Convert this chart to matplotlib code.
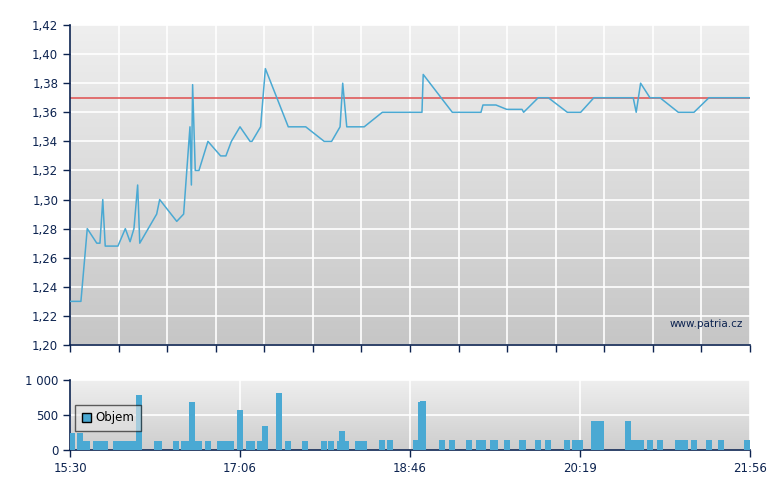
import numpy as np
import matplotlib
matplotlib.use('Agg')
import matplotlib.pyplot as plt
from matplotlib.patches import Patch

# cena: minuty od 15:30 a hodnota
price_min = [0, 6.2, 9.8, 15.2, 17.0, 18.6, 20.0, 27.2, 31.4, 34.1, 36.3, 38.4,
             39.6, 49.2, 50.9, 60.6, 64.5, 68.1, 68.9, 69.6, 71.1, 73.2, 78.3,
             85.5, 88.5, 91.6, 96.5, 102.2, 103.3, 108.2, 110.9, 123.9, 133.8,
             144.3, 148.5, 153.3, 154.8, 157.1, 167.0, 177.3, 199.8, 200.5,
             217.0, 233.3, 234.4, 241.8, 247.9, 256.6, 257.5, 265.8, 271.5,
             282.3, 289.9, 297.4, 319.7, 321.4, 323.9, 329.2, 334.9, 345.3,
             354.2, 362.7, 386]
price_val = [1.23, 1.23, 1.28, 1.27, 1.27, 1.30, 1.268, 1.268, 1.28, 1.271, 1.28, 1.31,
             1.27, 1.29, 1.30, 1.285, 1.29, 1.35, 1.31, 1.379, 1.32, 1.32, 1.34,
             1.33, 1.33, 1.34, 1.35, 1.34, 1.34, 1.35, 1.39, 1.35, 1.35,
             1.34, 1.34, 1.35, 1.38, 1.35, 1.35, 1.36, 1.36, 1.386,
             1.36, 1.36, 1.365, 1.365, 1.362, 1.362, 1.36, 1.37, 1.37,
             1.36, 1.36, 1.37, 1.37, 1.36, 1.38, 1.37, 1.37, 1.36,
             1.36, 1.37, 1.37]
prev_close = 1.37

# objem: interval (od, do) v minutach od 15:30 a objem
vol_start = [0, 4.0, 7.4, 13.1, 24.4, 37.3, 47.7, 58.5, 63.0, 67.5, 71.0, 76.6,
             83.4, 94.8, 99.9, 106.1, 109.0, 116.9, 122.0, 131.7, 142.5, 146.5,
             151.6, 152.7, 156.1, 161.8, 175.4, 179.9, 194.7, 197.5, 198.7,
             209.4, 215.1, 224.8, 230.4, 238.4, 246.3, 254.9, 264.0, 269.6,
             280.4, 284.9, 295.7, 315.0, 318.4, 327.5, 333.2, 343.4, 352.5,
             361.0, 367.8, 382.6]
vol_end = [2.8, 7.4, 11.4, 21.4, 37.3, 40.9, 52.2, 61.9, 67.5, 71.0, 74.9, 80.0,
           93.1, 98.2, 105.0, 109.0, 112.4, 120.3, 125.4, 135.1, 145.9, 149.9,
           152.7, 156.1, 158.4, 168.6, 178.8, 183.3, 197.5, 198.7, 202.1,
           212.8, 218.5, 228.2, 236.1, 242.9, 249.7, 258.9, 267.4, 273.0,
           283.8, 291.2, 303.1, 318.4, 325.8, 330.9, 336.6, 350.8, 355.9,
           364.4, 371.2, 386]
vol_val = [250, 240, 130, 130, 130, 790, 130, 130, 130, 690, 130, 130,
           130, 570, 130, 130, 340, 815, 130, 130, 130, 130,
           130, 270, 130, 130, 140, 140, 140, 690, 700,
           140, 140, 140, 140, 140, 140, 140, 140, 140,
           140, 140, 415, 415, 140, 140, 140, 140, 140,
           140, 140, 140]

tick_labels = ['15:30', '17:06', '18:46', '20:19', '21:56']
T_END = 386

NAVY = '#0c2350'
BLUE = '#4aa9d3'

def gradient(ax, top, bottom):
    g = np.linspace(0, 1, 256).reshape(-1, 1)
    c0 = np.array(matplotlib.colors.to_rgb(top))
    c1 = np.array(matplotlib.colors.to_rgb(bottom))
    img = c0 + (c1 - c0) * g[:, :, None]
    ax.imshow(img, extent=[0, 1, 0, 1], transform=ax.transAxes,
              aspect='auto', zorder=0, origin='upper')

def style(ax):
    for s in ['top', 'right']:
        ax.spines[s].set_visible(False)
    for s in ['left', 'bottom']:
        ax.spines[s].set_color(NAVY)
        ax.spines[s].set_linewidth(1.2)
    ax.tick_params(colors=NAVY, labelcolor=NAVY, labelsize=8.5, length=5, width=1)

fig = plt.figure(figsize=(7.8, 4.9), dpi=100)

# horni graf - cena
ax = fig.add_axes([70/780, 145/490, 680/780, 320/490])
gradient(ax, '#efefef', '#c6c6c6')
ax.plot(price_min, price_val, color=BLUE, lw=1.1, zorder=3)
ax.axhline(prev_close, color='#e05a5a', lw=1.2, zorder=2)
ax.set_xlim(0, T_END)
ax.set_ylim(1.20, 1.42)
yt = np.round(np.arange(1.20, 1.4201, 0.02), 2)
ax.set_yticks(yt)
ax.set_yticklabels([f'{v:.2f}'.replace('.', ',') for v in yt])
ax.set_xticks(np.linspace(0, T_END, 15))
ax.set_xticklabels([])
ax.grid(True, color='white', lw=1.2, zorder=1)
ax.set_axisbelow(True)
style(ax)
ax.text(0.99, 0.065, 'www.patria.cz', transform=ax.transAxes, ha='right',
        va='center', fontsize=7.5, color=NAVY, zorder=4)

# dolni graf - objem
bx = fig.add_axes([70/780, 40/490, 680/780, 70/490])
gradient(bx, '#efefef', '#cdcdcd')
widths = [e - s for s, e in zip(vol_start, vol_end)]
bx.bar(vol_start, vol_val, width=widths, align='edge', color=BLUE,
       linewidth=0, zorder=3)
bx.set_xlim(0, T_END)
bx.set_ylim(0, 1000)
bx.set_yticks([0, 500, 1000])
bx.set_yticklabels(['0', '500', '1 000'])
bx.set_xticks(np.linspace(0, T_END, 5))
bx.set_xticklabels(tick_labels)
bx.grid(True, color='white', lw=1.2, zorder=1)
bx.set_axisbelow(True)
style(bx)
leg = bx.legend(handles=[Patch(facecolor=BLUE, edgecolor='black', label='Objem')],
                loc='upper left', bbox_to_anchor=(0.008, 0.645), borderaxespad=0,
                fancybox=False, framealpha=0.6, facecolor='#e4e4e4',
                edgecolor='black', fontsize=8.5, handlelength=0.8,
                handleheight=0.8, borderpad=0.55, handletextpad=0.35)
leg.get_frame().set_linewidth(1.0)
for t in leg.get_texts():
    t.set_color('black')

fig.savefig('out.png', dpi=100)
